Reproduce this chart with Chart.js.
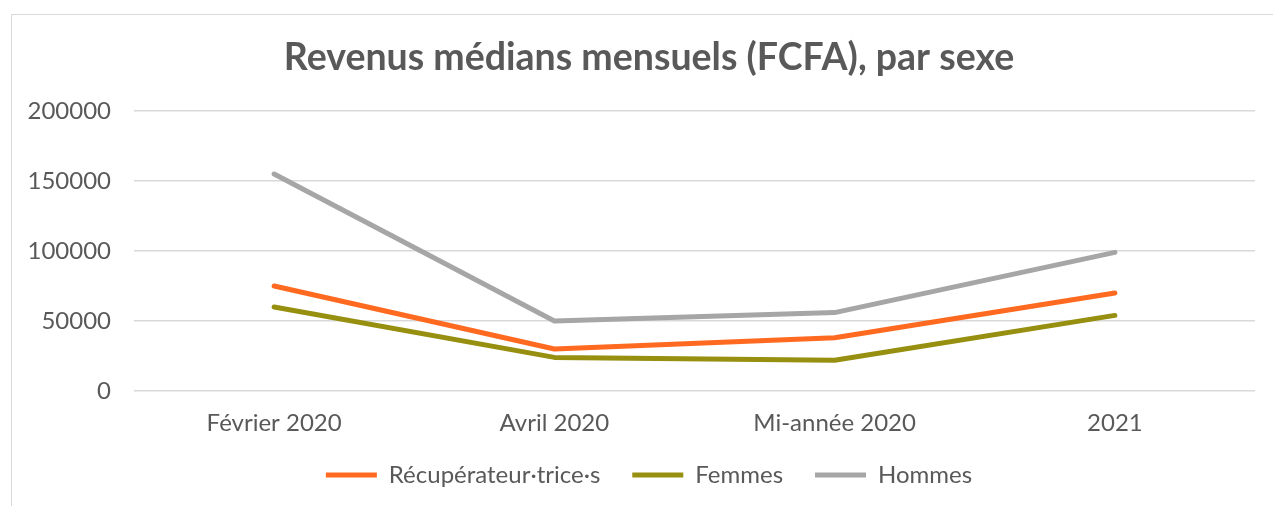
<!DOCTYPE html>
<html lang="fr">
<head>
<meta charset="utf-8">
<script src="https://cdn.jsdelivr.net/npm/chart.js@4/dist/chart.umd.min.js"></script>
<style>
  html, body { margin: 0; padding: 0; background: #fff; overflow: hidden; }
  #wrap { position: relative; width: 1273px; height: 506px; }
  #frame { position: absolute; left: 11px; top: 14px; width: 1400px; height: 600px; border: 1px solid #d9d9d9; box-sizing: border-box; }
  canvas { position: absolute; left: 0; top: 0; }
</style>
</head>
<body>
<div id="wrap">
  <div id="frame"></div>
  <canvas id="revenusChart" width="1273" height="506"></canvas>
</div>
<script>
// categories and series
const periodes = ["Février 2020", "Avril 2020", "Mi-année 2020", "2021"];
const recuperateurs = [75000, 30000, 38000, 70000];
const femmes = [60000, 24000, 22000, 54000];
const hommes = [155000, 50000, 56000, 99000];

const textColor = "#595959";
const gridColor = "#d9d9d9";

function serie(label, data, color) {
    return {
        label: label,
        data: data,
        borderColor: color,
        backgroundColor: color,
        borderWidth: 5,
        borderCapStyle: "round",
        borderJoinStyle: "round",
        pointRadius: 0,
        pointHoverRadius: 0,
        tension: 0,
    };
}

new Chart(document.getElementById("revenusChart"), {
    type: "line",
    data: {
        labels: periodes,
        datasets: [
            serie("Récupérateur·trice·s", recuperateurs, "#ff6a20"),
            serie("Femmes", femmes, "#968f10"),
            serie("Hommes", hommes, "#a6a6a6"),
        ],
    },
    options: {
        responsive: false,
        animation: false,
        // the original chart box runs past the right edge of the picture
        layout: { padding: { left: 0, right: -25, top: 0, bottom: 9 } },
        plugins: {
            tooltip: { enabled: false },
            title: {
                display: true,
                text: "Revenus médians mensuels (FCFA), par sexe",
                color: textColor,
                font: { family: "Lato", size: 37.5, weight: "bold" },
                padding: { top: 35, bottom: 31 },
            },
            legend: {
                position: "bottom",
                labels: {
                    color: textColor,
                    font: { family: "Lato", size: 24 },
                    usePointStyle: true,
                    pointStyle: "line",
                    pointStyleWidth: 51,
                    padding: 32,
                },
            },
        },
        scales: {
            x: {
                offset: true,
                grid: { display: false, drawTicks: false },
                border: { display: false },
                // mirror only to avoid the label clip of a short axis box
                ticks: { color: textColor, font: { family: "Lato", size: 24 }, mirror: true, padding: -46.4 },
                afterFit: (scale) => { scale.height = 40; },
            },
            y: {
                min: 0,
                max: 200000,
                border: { display: false },
                grid: { color: gridColor, lineWidth: 1.5, drawTicks: false },
                ticks: {
                    stepSize: 50000,
                    color: textColor,
                    font: { family: "Lato", size: 24 },
                    padding: 23,
                    callback: (v) => String(v),
                },
                afterFit: (scale) => { scale.width = 134; },
            },
            // empty right margin of the plot area
            marge: {
                position: "right",
                grid: { display: false },
                border: { display: false },
                ticks: { display: false },
                afterFit: (scale) => { scale.width = 43; },
            },
        },
    },
});
</script>
</body>
</html>
